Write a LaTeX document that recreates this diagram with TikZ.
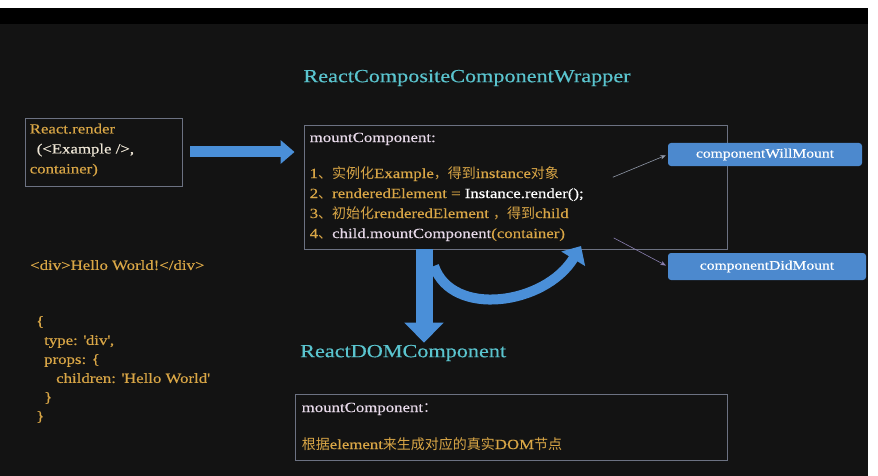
\documentclass[tikz,border=0pt]{standalone}
\usepackage{fontspec}
\setmainfont{Liberation Serif}[FakeStretch=1.2, FakeBold=0.4]
\newfontfamily\cjk{Noto Sans CJK SC}
\usetikzlibrary{arrows.meta, positioning}
\definecolor{bgDark}{HTML}{131313}
\definecolor{tCyan}{HTML}{5AC4CE}
\definecolor{tGold}{HTML}{D9A646}
\definecolor{tPale}{HTML}{E6D8E8}
\definecolor{tCream}{HTML}{EEE6D6}
\definecolor{aBlue}{HTML}{4A8FD8}
\definecolor{bBlue}{HTML}{4C89CE}
\definecolor{frameGray}{HTML}{6C7282}
\definecolor{hintGray}{HTML}{9098A8}
\definecolor{hintPurple}{HTML}{8A80B0}
\newcommand{\zh}[1]{{\cjk #1}}
\newcommand{\sq}{\textquotesingle}

\begin{document}
\begin{tikzpicture}[x=1pt, y=-1pt, >=Stealth,
    panel/.style={draw=frameGray, line width=0.9pt, inner sep=0pt},
    codetext/.style={align=left, inner sep=0pt, anchor=north west,
                     text=tGold, font=\fontsize{14}{20}\selectfont},
    headline/.style={text=tCyan, font=\fontsize{18.5}{22}\selectfont,
                     inner sep=2pt},
    hookbox/.style={fill=bBlue, rounded corners=3pt, text=white,
                    font=\fontsize{13}{15}\selectfont, inner sep=0pt},
    hint/.style={->, line width=0.6pt, shorten >=2pt, shorten <=2pt}]
    \useasboundingbox (0,0) rectangle (878,476);
    % backdrop
    \fill[white] (0,0) rectangle (878,476);
    \fill[bgDark] (0,8) rectangle (868,476);
    \fill[black] (0,8) rectangle (868,24);

    % titles
    \node[headline] (wraptitle) at (467,78) {ReactCompositeComponentWrapper};
    \node[headline, anchor=west] (domtitle) at (298,353) {ReactDOMComponent};

    % boxes
    \node[panel, minimum width=157, minimum height=68] (renderbox) at (103.5,152) {};
    \node[panel, minimum width=423, minimum height=124] (wrapper) at (515.5,187) {};
    \node[panel, minimum width=432, minimum height=66] (dombox) at (511,427) {};
    \node[hookbox, minimum width=194, minimum height=23] (willmount) at (765,154.5) {componentWillMount};
    \node[hookbox, minimum width=198, minimum height=27] (didmount) at (767,266.5) {componentDidMount};

    % box texts
    \node[codetext] (rendertext) at ([shift={(5,6)}]renderbox.north west)
      {React.render\\
       \hspace{7pt}\textcolor{tCream}{(<Example />,}\\
       container)};
    \node[codetext] (wraplines) at ([shift={(6,8)}]wrapper.north west)
      {\textcolor{tPale}{mountComponent:}\\[16pt]
       1\zh{、实例化}Example\zh{，得到}instance\zh{对象}\\
       2\zh{、}renderedElement = \textcolor{white}{Instance.render();}\\
       3\zh{、初始化}renderedElement \zh{，得到}child\\
       4\zh{、}\textcolor{tPale}{child.mountComponent}(container)};
    \node[codetext] (domlines) at ([shift={(7,9)}]dombox.north west)
      {\textcolor{tPale}{mountComponent\zh{：}}\\[17pt]
       \zh{根据}element\zh{来生成对应的真实}DOM\zh{节点}};

    % left side
    \node[codetext] (divtext) at (30,260) {<div>Hello World!</div>};
    \node[codetext, font=\fontsize{14}{19}\selectfont] (jsontext) at (36,316)
      {\{\\
       \hspace{8pt}type: \sq div\sq,\\
       \hspace{8pt}props: \{\\
       \hspace{20pt}children: \sq Hello World\sq\\
       \hspace{8pt}\}\\
       \}};

    % fat arrows
    \draw[aBlue, line width=11pt, -{Triangle[width=23pt, length=14pt]},
          shorten <=8pt, shorten >=9pt]
      (renderbox.east) -- (renderbox.east -| wrapper.west);
    \coordinate (downtop) at (424,249);
    \draw[aBlue, line width=17pt, -{Triangle[width=38pt, length=20pt]}]
      (downtop) -- (downtop |- domtitle.north);
    \coordinate (bendstart) at (434,266);
    \coordinate (bendend) at (581,246);
    \draw[aBlue, line width=10pt, -{Triangle[width=27pt, length=15pt]}]
      (bendstart) .. controls (452,318) and (545,305) .. (bendend);

    % lifecycle hints
    \coordinate (willfrom) at (611,178);
    \coordinate (didfrom) at (612,237);
    \draw[hint, hintGray] (willfrom) -- (willmount.west);
    \draw[hint, hintPurple] (didfrom) -- (didmount.west);
\end{tikzpicture}
\end{document}
